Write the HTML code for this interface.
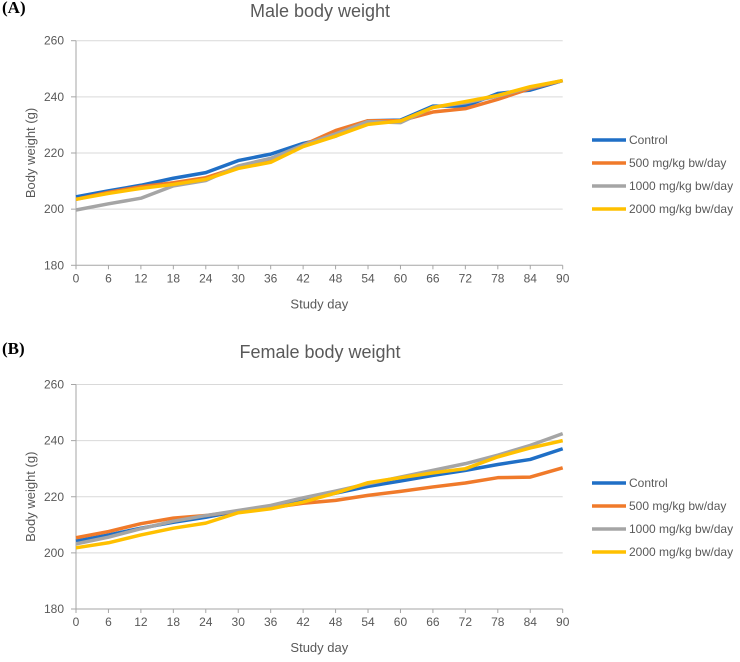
<!DOCTYPE html>
<html><head><meta charset="utf-8"><style>
body{margin:0;background:#fff;font-family:"Liberation Sans",sans-serif}
</style></head><body>
<svg id="chart" width="740" height="657" xmlns="http://www.w3.org/2000/svg" font-family="Liberation Sans, sans-serif"></svg>
<script>
const days=[0,6,12,18,24,30,36,42,48,54,60,66,72,78,84,90];
const yTicks=[180,200,220,240,260];
const seriesNames=["Control","500 mg/kg bw/day","1000 mg/kg bw/day","2000 mg/kg bw/day"];
const seriesColors=["#1f6fc6","#f07a2a","#a5a5a5","#ffc000"];
const maleControl=[204.4,206.5,208.5,211,213,217.3,219.6,223.4,226,231.5,231.7,236.7,236.7,241.2,242.4,245.8];
const male500=[203.5,206,208,209.4,211.2,214.9,216.9,222.8,228,231.5,231.5,234.6,235.8,239.1,243,245.8];
const male1000=[199.7,201.9,203.9,208.3,210.2,215.4,218.1,222.8,226.8,231.2,230.8,236.3,237.9,240.3,243.4,245.8];
const male2000=[203.5,205.6,207.4,208.8,210.6,214.5,216.7,222.3,226,230.2,231.4,236.2,238.3,240.5,243.6,245.8];
const femaleControl=[204.2,206.4,208.8,210.9,212.7,214.9,216.5,218.9,221.3,223.7,225.6,227.6,229.4,231.5,233.3,237.1];
const female500=[205.4,207.6,210.4,212.4,213.3,214.9,216.1,217.7,218.7,220.5,221.9,223.5,224.9,226.8,227,230.3];
const female1000=[203.2,205.6,208.6,211.3,213.3,215.1,216.9,219.6,222,224.6,227,229.4,231.8,234.8,238.3,242.5];
const female2000=[201.8,203.6,206.4,208.8,210.6,214.3,215.7,218.1,221.3,225,226.8,228.5,230,234.2,237.4,240];

const svg=document.getElementById('chart');
const NS='http://www.w3.org/2000/svg';
function mk(tag,attrs,parent,text){const e=document.createElementNS(NS,tag);for(const k in attrs)e.setAttribute(k,attrs[k]);if(text!==undefined)e.textContent=text;parent.appendChild(e);return e;}

function panel(label,title,titleY,top,bottom,data,legendY,key){
  const g=mk('g',{},svg);
  
  
  const x0=76,x1=562.7;
  const xs=d=>x0+(d-0)/90*(x1-x0);
  const ys=v=>bottom-(v-180)/80*(bottom-top);
  const pl=mk('text',{x:2,y:titleY-4,'font-family':'Liberation Serif, serif','font-weight':'bold','font-size':17,fill:'#000'},g,label);
  
  const tt=mk('text',{x:320,y:titleY,'text-anchor':'middle','font-size':18,fill:'#595959'},g,title);
  
  yTicks.forEach(v=>{
    if(v>180){const l=mk('line',{x1:x0,x2:x1,y1:ys(v),y2:ys(v),stroke:'#d9d9d9','stroke-width':1},g);
    }
    mk('line',{x1:x0-5,x2:x0,y1:ys(v),y2:ys(v),stroke:'#a6a6a6'},g);
    const t=mk('text',{x:x0-12,y:ys(v)+4,'text-anchor':'end','font-size':12,fill:'#595959'},g,v);
    
  });
  mk('line',{x1:x0,x2:x0,y1:top,y2:bottom,stroke:'#a6a6a6'},g);
  mk('line',{x1:x0,x2:x1,y1:bottom,y2:bottom,stroke:'#a6a6a6'},g);
  days.forEach(d=>{
    mk('line',{x1:xs(d),x2:xs(d),y1:bottom,y2:bottom+4,stroke:'#a6a6a6'},g);
    const t=mk('text',{x:xs(d),y:bottom+17,'text-anchor':'middle','font-size':12,fill:'#595959'},g,d);
    
  });
  const xt=mk('text',{x:(x0+x1)/2,y:bottom+43,'text-anchor':'middle','font-size':13,fill:'#595959'},g,'Study day');
  
  const cy=(top+bottom)/2;
  const yt=mk('text',{x:35,y:cy,'text-anchor':'middle','font-size':13,fill:'#595959',transform:`rotate(-90 35 ${cy})`},g,'Body weight (g)');
  
  data.forEach((arr,i)=>{
    const p=mk('polyline',{points:arr.map((v,j)=>xs(days[j])+','+ys(v)).join(' '),fill:'none',stroke:seriesColors[i],'stroke-width':3.5,'stroke-linejoin':'round'},g);
    
  });
  seriesNames.forEach((n,i)=>{
    const y=legendY+i*23;
    const lg=mk('g',{},g);
    
    mk('line',{x1:592,x2:626,y1:y,y2:y,stroke:seriesColors[i],'stroke-width':3.5},lg);
    mk('text',{x:629,y:y+4,'font-size':12,fill:'#595959'},lg,n);
  });
}
panel('(A)','Male body weight',17,40.7,265.3,[maleControl,male500,male1000,male2000],140,'male');
panel('(B)','Female body weight',358,384.5,609,[femaleControl,female500,female1000,female2000],483,'female');
</script>
</body></html>
